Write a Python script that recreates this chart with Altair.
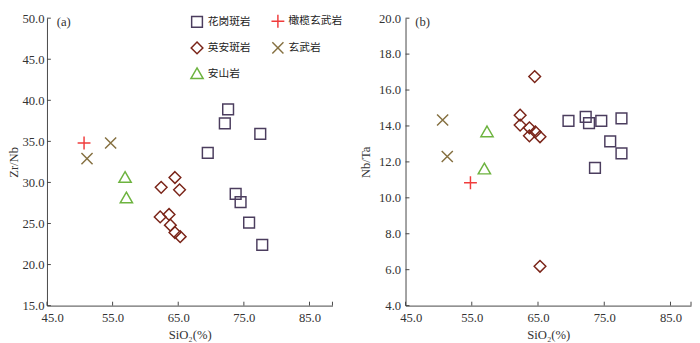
import altair as alt
import pandas as pd

# ---------------- data ----------------
rock_types = ["花岗斑岩", "英安斑岩", "安山岩", "橄榄玄武岩", "玄武岩"]
rock_colors = ["#4b3d5e", "#7a2418", "#6db33f", "#f03c3c", "#857040"]
rock_shapes = [
    "M-0.92,-0.92H0.92V0.92H-0.92Z",                     # square
    "M0,-1L1,0L0,1L-1,0Z",                                # diamond
    "M0,-1L1.05,0.82H-1.05Z",                             # triangle
    "M-1.1,0H1.1M0,-1.1V1.1",                             # plus
    "M-0.95,-0.95L0.95,0.95M-0.95,0.95L0.95,-0.95",      # x
]

# panel (a): SiO2 vs Zr/Nb
a_granite_sio2 = [69.5, 72.1, 72.6, 77.5, 73.75, 74.5, 75.8, 77.8]
a_granite_zrnb = [33.6, 37.2, 38.9, 35.9, 28.6, 27.6, 25.1, 22.4]
a_dacite_sio2 = [64.5, 62.4, 65.2, 62.25, 63.6, 63.8, 64.5, 65.3]
a_dacite_zrnb = [30.6, 29.4, 29.1, 25.8, 26.1, 24.8, 23.9, 23.4]
a_andesite_sio2 = [56.9, 57.1]
a_andesite_zrnb = [30.6, 28.1]
a_olivbasalt_sio2 = [50.65]
a_olivbasalt_zrnb = [34.8]
a_basalt_sio2 = [54.7, 51.1]
a_basalt_zrnb = [34.8, 32.9]

# panel (b): SiO2 vs Nb/Ta
b_granite_sio2 = [69.6, 72.2, 72.7, 74.55, 77.6, 75.9, 77.6, 73.6]
b_granite_nbta = [14.28, 14.51, 14.16, 14.28, 14.42, 13.14, 12.48, 11.67]
b_dacite_sio2 = [64.5, 62.3, 62.3, 63.7, 63.7, 64.6, 65.3, 65.3]
b_dacite_nbta = [16.75, 14.6, 14.05, 13.9, 13.45, 13.67, 13.4, 6.19]
b_andesite_sio2 = [57.3, 56.9]
b_andesite_nbta = [13.67, 11.6]
b_olivbasalt_sio2 = [54.8]
b_olivbasalt_nbta = [10.84]
b_basalt_sio2 = [50.6, 51.3]
b_basalt_nbta = [14.33, 12.3]

x_ticks = [45, 55, 65, 75, 85]
a_x_domain = [45, 88.5]
b_x_domain = [45, 88.1]
a_y_ticks = [15, 20, 25, 30, 35, 40, 45, 50]
a_y_domain = [15, 50]
b_y_ticks = [4, 6, 8, 10, 12, 14, 16, 18, 20]
b_y_domain = [4, 20]
panel_labels = ["(a)", "(b)"]

SERIF = "Liberation Serif"
AXIS_COLOR = "#444"


def build_df(groups):
    rows = []
    for name, xs, ys in groups:
        for xv, yv in zip(xs, ys):
            rows.append({"rock": name, "SiO2": xv, "ratio": yv})
    return pd.DataFrame(rows)


df_a = build_df([
    ("花岗斑岩", a_granite_sio2, a_granite_zrnb),
    ("英安斑岩", a_dacite_sio2, a_dacite_zrnb),
    ("安山岩", a_andesite_sio2, a_andesite_zrnb),
    ("橄榄玄武岩", a_olivbasalt_sio2, a_olivbasalt_zrnb),
    ("玄武岩", a_basalt_sio2, a_basalt_zrnb),
])
df_b = build_df([
    ("花岗斑岩", b_granite_sio2, b_granite_nbta),
    ("英安斑岩", b_dacite_sio2, b_dacite_nbta),
    ("安山岩", b_andesite_sio2, b_andesite_nbta),
    ("橄榄玄武岩", b_olivbasalt_sio2, b_olivbasalt_nbta),
    ("玄武岩", b_basalt_sio2, b_basalt_nbta),
])


def panel(df, y_title, x_domain, y_ticks, y_domain, label, W, H, legend, y_lab_pad, y_title_pad):
    xscale = alt.Scale(domain=x_domain, nice=False, zero=False)
    yscale = alt.Scale(domain=y_domain, nice=False, zero=False)
    xaxis = alt.Axis(values=x_ticks, format=".1f", ticks=False, labelPadding=6,
                     titlePadding=5, labelFlush=True, labelFlushOffset=6)
    yaxis = alt.Axis(values=y_ticks, format=".1f", ticks=False, labelPadding=y_lab_pad,
                     titlePadding=y_title_pad)
    points = alt.Chart(df).mark_point(filled=False, size=144, strokeWidth=1.5, opacity=1).encode(
        x=alt.X("SiO2:Q", scale=xscale, axis=xaxis, title="SiO₂(%)"),
        y=alt.Y("ratio:Q", scale=yscale, axis=yaxis, title=y_title),
        color=alt.Color("rock:N", scale=alt.Scale(domain=rock_types, range=rock_colors), legend=legend),
        shape=alt.Shape("rock:N", scale=alt.Scale(domain=rock_types, range=rock_shapes), legend=legend),
    )
    xt = pd.DataFrame({"SiO2": x_ticks + [x_domain[1]]})
    yt = pd.DataFrame({"ratio": y_ticks})
    xtick_layer = alt.Chart(xt).mark_rule(color=AXIS_COLOR, strokeWidth=1).encode(
        x=alt.X("SiO2:Q", scale=xscale, axis=xaxis, title="SiO₂(%)"),
        y=alt.value(H), y2=alt.value(H - 4),
    )
    ytick_layer = alt.Chart(yt).mark_rule(color=AXIS_COLOR, strokeWidth=1).encode(
        y=alt.Y("ratio:Q", scale=yscale, axis=yaxis, title=y_title),
        x=alt.value(0), x2=alt.value(4),
    )
    txt = alt.Chart(pd.DataFrame({"label": [label]})).mark_text(
        font=SERIF, fontSize=13, align="left", baseline="middle", color="#333"
    ).encode(text="label:N", x=alt.value(10), y=alt.value(4))
    return alt.layer(xtick_layer, ytick_layer, points, txt).properties(width=W, height=H)


legend_a = alt.Legend(
    title=None, orient="none", legendX=147, legendY=-4, columns=2,
    symbolSize=144, symbolStrokeWidth=1.5, labelFont="Noto Sans CJK SC",
    labelFontSize=11, labelColor="#222", labelOffset=4, rowPadding=8.5,
    columnPadding=18, padding=0,
)

left = panel(df_a, "Zr/Nb", a_x_domain, a_y_ticks, a_y_domain, panel_labels[0], 293, 295, legend_a, 3, 1)
right = panel(df_b, "Nb/Ta", b_x_domain, b_y_ticks, b_y_domain, panel_labels[1], 293, 295, None, 5, 6)

chart = alt.hconcat(left, right, spacing=18).resolve_scale(
    x="independent", y="independent", color="independent", shape="independent"
).properties(padding=0, background="white").configure_view(stroke=None).configure_axis(
    domainColor=AXIS_COLOR, domainWidth=1, labelColor="#333", titleColor="#333",
    labelFont=SERIF, titleFont=SERIF, labelFontSize=13, titleFontSize=13,
    titleFontWeight="normal", grid=False,
)

chart.save("out.html", embed_options={"renderer": "svg", "actions": False})
